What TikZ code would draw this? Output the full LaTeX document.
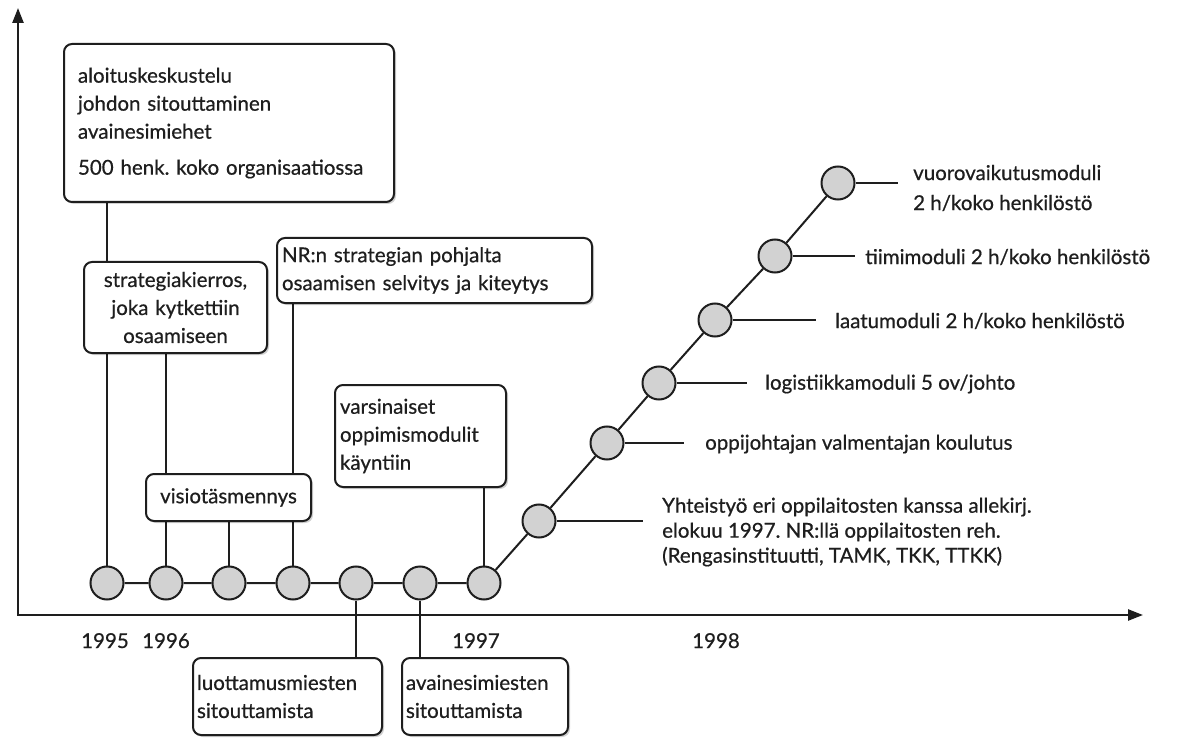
\documentclass[tikz,border=0pt]{standalone}
\usepackage{fontspec}
\setmainfont{Lato}[FakeBold=0.6]
\usetikzlibrary{arrows.meta,shadows,backgrounds}
\definecolor{ink}{HTML}{1E1E1E}
\definecolor{dotgray}{HTML}{D2D2D2}
\frenchspacing
\begin{document}
\begin{tikzpicture}[x=1pt,y=-1pt,
  every node/.style={font=\fontsize{20.5}{28}\selectfont, text=ink},
  box/.style={draw=ink, line width=2pt, fill=white, rounded corners=8pt,
    drop shadow={shadow xshift=2pt, shadow yshift=-2pt, opacity=0.18, fill=black}},
  leftbox/.style={box, align=left, inner ysep=0pt},
  midbox/.style={box, align=center, inner ysep=0pt},
  dotnode/.style={circle, draw=ink, fill=dotgray, line width=2pt, minimum size=33pt, inner sep=0pt},
  link/.style={draw=ink, line width=2pt},
  axis/.style={draw=ink, line width=2.4pt,
    {Triangle[length=15pt,width=11pt]}-{Triangle[length=15pt,width=11pt]}},
  lbl/.style={anchor=west, inner sep=0pt, align=left},
  year/.style={anchor=base, inner sep=0pt}]

\useasboundingbox (0,0) rectangle (1184,738);

% milestone dots along the time line
\node[dotnode] (c1) at (107,583) {};
\node[dotnode] (c2) at (166,583) {};
\node[dotnode] (c3) at (229,583) {};
\node[dotnode] (c4) at (293,583) {};
\node[dotnode] (c5) at (356,583) {};
\node[dotnode] (c6) at (420,583) {};
\node[dotnode] (c7) at (484,583) {};
% rising branch of training modules
\node[dotnode] (d1) at (539,521) {};
\node[dotnode] (d2) at (607,443) {};
\node[dotnode] (d3) at (659,383) {};
\node[dotnode] (d4) at (715,320) {};
\node[dotnode] (d5) at (775,256) {};
\node[dotnode] (d6) at (838,183) {};

% event boxes
\node[leftbox, minimum width=330pt, minimum height=158pt, text width=302pt, inner xsep=14pt]
  (intro) at (229,123) {aloituskeskustelu\\johdon sitouttaminen\\avainesimiehet\\[8pt]500 henk. koko organisaatiossa};
\node[midbox, minimum width=183pt, minimum height=91pt, text width=175pt, inner xsep=4pt]
  (strat) at (175.5,307.5) {strategiakierros,\\joka kytkettiin\\osaamiseen};
\node[leftbox, minimum width=315pt, minimum height=65pt, text width=305pt, inner xsep=5pt]
  (nr) at (434.5,270.5) {NR:n strategian pohjalta\\osaamisen selvitys ja kiteytys};
\node[midbox, minimum width=165pt, minimum height=47pt, text width=163pt, inner xsep=1pt]
  (visio) at (228.5,497.5) {visiotäsmennys};
\node[leftbox, minimum width=171pt, minimum height=102pt, text width=161pt, inner xsep=5pt]
  (vars) at (420.5,436) {varsinaiset\\oppimismodulit\\käyntiin};
\node[leftbox, minimum width=189pt, minimum height=77pt, text width=181pt, inner xsep=4pt]
  (luott) at (287.5,696.5) {luottamusmiesten\\sitouttamista};
\node[leftbox, minimum width=166pt, minimum height=77pt, text width=158pt, inner xsep=4pt]
  (avain) at (485,696.5) {avainesimiesten\\sitouttamista};

% module labels
\node[lbl, font=\fontsize{20.5}{25}\selectfont] (t1) at (662,532)
  {Yhteistyö eri oppilaitosten kanssa allekirj.\\elokuu 1997. NR:llä oppilaitosten reh.\\(Rengasinstituutti, TAMK, TKK, TTKK)};
\node[lbl] (t2) at (705,444) {oppijohtajan valmentajan koulutus};
\node[lbl] (t3) at (765,384) {logistiikkamoduli 5 ov/johto};
\node[lbl] (t4) at (835,321) {laatumoduli 2 h/koko henkilöstö};
\node[lbl] (t5) at (865,257) {tiimimoduli 2 h/koko henkilöstö};
\node[lbl, font=\fontsize{20.5}{30}\selectfont] (t6) at (913,188) {vuorovaikutusmoduli\\2 h/koko henkilöstö};

\coordinate (e1) at (643,521);
\coordinate (e2) at (684,443);
\coordinate (e3) at (747,383);
\coordinate (e4) at (816,320);
\coordinate (e5) at (855,256);
\coordinate (e6) at (898,183);

% year labels
\node[year] (y95) at (105,648) {1995};
\node[year] (y96) at (166,648) {1996};
\node[year] (y97) at (476,648) {1997};
\node[year] (y98) at (716,648) {1998};

% axes
\coordinate (origin) at (18,615);
\coordinate (ytip) at (18,8);
\coordinate (xtip) at (1143,615);

\begin{pgfonlayer}{background}
  \fill[white] (0,0) rectangle (1184,738);
  \path[axis] (ytip) -- (origin) -- (xtip);
  % connectors from dots to their boxes
  \draw[link] (c1) -- (c1 |- intro.south);
  \draw[link] (c2) -- (c2 |- strat.south);
  \draw[link] (c3) -- (c3 |- visio.south);
  \draw[link] (c4) -- (c4 |- nr.south);
  \draw[link] (c5) -- (c5 |- luott.north);
  \draw[link] (c6) -- (c6 |- avain.north);
  \draw[link] (c7) -- (c7 |- vars.south);
  % time line and rising branch
  \draw[link] (c1) -- (c2) -- (c3) -- (c4) -- (c5) -- (c6) -- (c7)
    -- (d1) -- (d2) -- (d3) -- (d4) -- (d5) -- (d6);
  % leader lines to module labels
  \draw[link] (d1) -- (e1);
  \draw[link] (d2) -- (e2);
  \draw[link] (d3) -- (e3);
  \draw[link] (d4) -- (e4);
  \draw[link] (d5) -- (e5);
  \draw[link] (d6) -- (e6);
\end{pgfonlayer}
\end{tikzpicture}
\end{document}
